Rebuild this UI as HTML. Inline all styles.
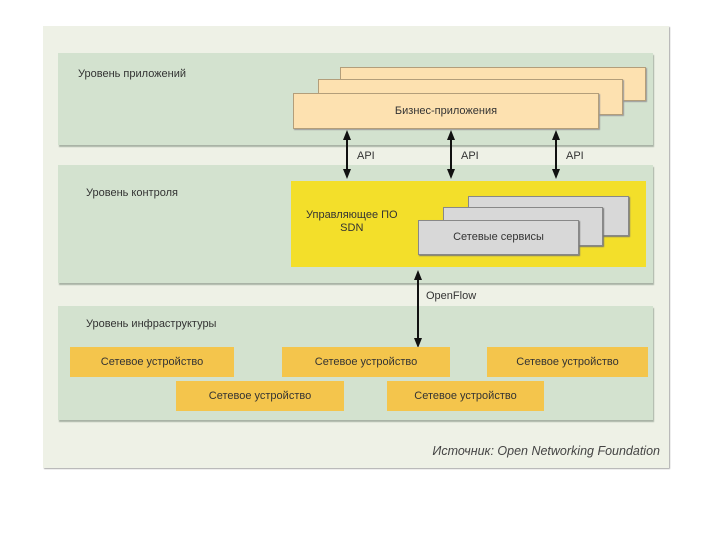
<!DOCTYPE html>
<html><head><meta charset="utf-8"><style>
body{margin:0;width:720px;height:540px;background:#fff;position:relative;font-family:"Liberation Sans",sans-serif;overflow:hidden}
div{position:absolute;box-sizing:border-box}
.t{font-size:11px;color:#333;white-space:nowrap}
.layer{left:58px;width:595px;background:#d3e2cf;box-shadow:1px 2px 1px #a9b3a6}
.app{background:#fde1b0;border:1px solid #b39e7a;box-shadow:1px 1px 1px #999}
.gr{background:#d8d8d8;border:1px solid #888;box-shadow:1px 1px 1px #777}
.dev{background:#f4c54c;font-size:11px;color:#333;text-align:center;line-height:30px}
</style></head><body>
<div style="left:43px;top:26px;width:626px;height:442px;background:#eef1e6;box-shadow:1px 1px 1px #aaa"></div>
<div class="layer" style="top:53px;height:92px"></div>
<div class="layer" style="top:165px;height:118px"></div>
<div class="layer" style="top:306px;height:114px"></div>
<div class="t" style="left:78px;top:68px">Уровень приложений</div>
<div class="t" style="left:86px;top:187px">Уровень контроля</div>
<div class="t" style="left:86px;top:318px">Уровень инфраструктуры</div>
<div class="app" style="left:340px;top:67px;width:306px;height:34px"></div>
<div class="app" style="left:318px;top:79px;width:305px;height:36px"></div>
<div class="app t" style="left:293px;top:93px;width:306px;height:36px;text-align:center;line-height:34px">Бизнес-приложения</div>
<div style="left:291px;top:181px;width:355px;height:86px;background:#f3df2a"></div>
<div class="t" style="left:306px;top:209px;text-align:center;line-height:13px">Управляющее ПО<br>SDN</div>
<div class="gr" style="left:468px;top:196px;width:161px;height:40px"></div>
<div class="gr" style="left:443px;top:207px;width:160px;height:39px"></div>
<div class="gr t" style="left:418px;top:220px;width:161px;height:35px;text-align:center;line-height:33px">Сетевые сервисы</div>
<svg style="position:absolute;left:0;top:0" width="720" height="540">
<g stroke="#111" stroke-width="2">
<line x1="347" y1="136" x2="347" y2="172"/>
<line x1="451" y1="136" x2="451" y2="172"/>
<line x1="556" y1="136" x2="556" y2="172"/>
<line x1="418" y1="276" x2="418" y2="342"/>
</g>
<g fill="#111">
<path d="M343,140 L347,130 L351,140z M343,169 L347,179 L351,169z"/>
<path d="M447,140 L451,130 L455,140z M447,169 L451,179 L455,169z"/>
<path d="M552,140 L556,130 L560,140z M552,169 L556,179 L560,169z"/>
<path d="M414,280 L418,270 L422,280z M414,338 L418,348 L422,338z"/>
</g></svg>
<div class="t" style="left:357px;top:150px">API</div>
<div class="t" style="left:461px;top:150px">API</div>
<div class="t" style="left:566px;top:150px">API</div>
<div class="t" style="left:426px;top:290px">OpenFlow</div>
<div class="dev" style="left:70px;top:347px;width:164px;height:30px">Сетевое устройство</div>
<div class="dev" style="left:282px;top:347px;width:168px;height:30px">Сетевое устройство</div>
<div class="dev" style="left:487px;top:347px;width:161px;height:30px">Сетевое устройство</div>
<div class="dev" style="left:176px;top:381px;width:168px;height:30px">Сетевое устройство</div>
<div class="dev" style="left:387px;top:381px;width:157px;height:30px">Сетевое устройство</div>
<div class="t" style="right:60px;top:444px;font-size:12.5px;font-style:italic;color:#444">Источник: Open Networking Foundation</div>
</body></html>
